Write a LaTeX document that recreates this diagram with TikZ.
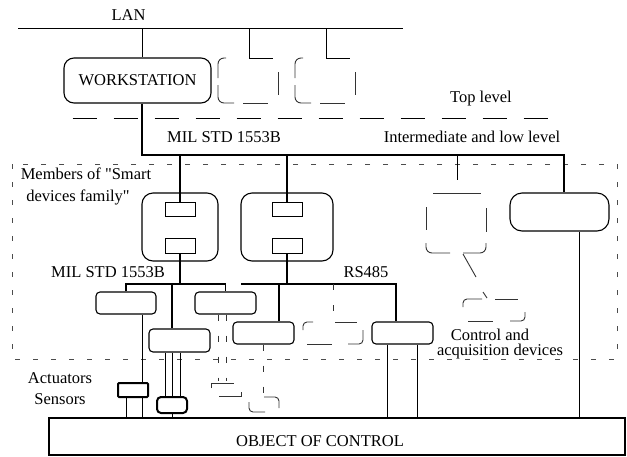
\documentclass[tikz,border=0pt]{standalone}
\usepackage{fontspec}
\setmainfont{Liberation Serif}
\newfontfamily\plainq{Liberation Serif}
\begin{document}
\begin{tikzpicture}[x=1pt,y=-1pt,
  every node/.style={font=\fontsize{16.5}{20}\selectfont, inner sep=0pt},
  thinln/.style={line width=0.9pt},
  bus/.style={line width=1.8pt},
  rb/.style={draw, line width=1.1pt, rounded corners=#1},
  rb/.default=4pt,
  sq/.style={draw, line width=0.9pt},
  thk/.style={draw, line width=2pt, rounded corners=#1},
  thk/.default=1pt,
  dsh/.style={line width=0.9pt, black!80},
  vdash/.style={line width=0.9pt, black!80, dash pattern=on 6pt off 15pt},
  region/.style={line width=0.7pt, black!70, dash pattern=on 5pt off 13pt}
]
\useasboundingbox (0,0) rectangle (627,456);

% ---------- top level ----------
\node (lan) at (128.5,15) {LAN};
\coordinate (lanL) at (18,28);
\coordinate (lanR) at (403,28);
\draw[thinln] (lanL) -- (lanR);

\node[rb=10pt, minimum width=147pt, minimum height=45pt] (ws) at (137.5,80.5) {WORKSTATION};
\coordinate (w1) at (142,28);
\draw[thinln] (w1) -- (w1 |- ws.north);

% dashed workstations
\foreach \sx/\nm in {218/w2, 295/w3}{
  \begin{scope}[shift={(\sx,58)}]
    \draw[dsh, rounded corners=6pt] (0,20) -- (0,0) -- (8,0);
    \draw[dsh, rounded corners=6pt] (0,27) -- (0,45) -- (16,45);
    \draw[dsh] (25,45) -- (50,45);
    \draw[thinln] (31,-30) -- (31,0) -- (55,0);
    \draw[dsh] (60,14) -- (60,37);
  \end{scope}
}

\draw[thinln, dash pattern=on 24.5pt off 16.5pt] (72.6,118) -- (548,118);
\node (top) at (481,99) {Top level};
\node (inter) at (472,137) {Intermediate and low level};
\node (mil1) at (224,137) {MIL STD 1553B};

% ---------- region ----------
\draw[region] (12,164) rectangle (617,359);
\node (mem1) at (86,174) {\plainq Members of "Smart};
\node (mem2) at (78,197) {\plainq devices family"};

% smart devices
\node[rb=11pt, minimum width=76pt, minimum height=68pt] (dev1) at (180,227) {};
\node[sq, minimum width=30pt, minimum height=14pt] (d1a) at (180,209) {};
\node[sq, minimum width=30pt, minimum height=15pt] (d1b) at (180,245.5) {};
\node[rb=11pt, minimum width=92pt, minimum height=68pt] (dev2) at (287,227) {};
\node[sq, minimum width=30pt, minimum height=14pt] (d2a) at (287,209) {};
\node[sq, minimum width=30pt, minimum height=15pt] (d2b) at (287,245.5) {};
\node[rb=12pt, minimum width=99pt, minimum height=38pt] (R) at (559.5,212) {};

% main bus
\coordinate (b0) at (142,155);
\coordinate (b9) at (564,155);
\coordinate (b7) at (457,155);
\draw[bus] (ws.south -| b0) -- (b0) -- (b9) -- (b9 |- R.north);
\draw[bus] (d1a.north) -- (d1a.north |- b0);
\draw[bus] (d2a.north) -- (d2a.north |- b0);
\draw[thinln] (b7) -- ++(0,25);

% dashed smart device (right)
\begin{scope}[shift={(426,193)}]
  \draw[dsh] (7,0) -- (55,0);
  \draw[dsh] (0,14) -- (0,37);
  \draw[dsh] (60,15) -- (60,39);
  \draw[dsh, rounded corners=6pt] (0,50) -- (0,60) -- (24,60);
  \draw[dsh, rounded corners=6pt] (37,60) -- (60,60) -- (60,50);
  \draw[dsh] (37,61) -- (50,84);
  \draw[dsh] (57,99) -- (61,105);
\end{scope}
\begin{scope}[shift={(463,299)}]
  \draw[dsh, rounded corners=4pt] (0,8) -- (0,0) -- (19,0);
  \draw[dsh] (32,0) -- (55,0);
  \draw[dsh, rounded corners=4pt] (62,13) -- (62,22) -- (47,22);
  \draw[dsh] (5,22) -- (30,22);
\end{scope}

% lower devices
\node (mil2) at (108,272) {MIL STD 1553B};
\node (rs) at (366,272) {RS485};
\node[rb, minimum width=60pt, minimum height=22pt] (A) at (126,303) {};
\node[rb, minimum width=61pt, minimum height=22pt] (B) at (225.5,303) {};
\node[rb, minimum width=61pt, minimum height=23pt] (C) at (179.5,340.5) {};
\node[rb, minimum width=61pt, minimum height=22pt] (D) at (263.5,333) {};
\node[rb, minimum width=61pt, minimum height=22pt] (F) at (402.5,333) {};

\coordinate (l1) at (172,284);
\draw[bus] (A.north) -- (A.north |- l1) -- (B.north |- l1) -- (B.north);
\draw[bus] (d1b.south) -- (d1b.south |- l1);
\draw[bus] (l1) -- (l1 |- C.north);

\coordinate (r0) at (241,284);
\coordinate (r1) at (279,284);
\coordinate (r2) at (333,284);
\coordinate (r9) at (396,284);
\draw[bus] (r0) -- (r9) -- (r9 |- F.north);
\draw[bus] (d2b.south) -- (d2b.south |- r0);
\draw[bus] (r1) -- (r1 |- D.north);
\draw[vdash] (r2) -- ++(0,38);

% dashed device E
\begin{scope}[shift={(303,322)}]
  \draw[dsh, rounded corners=4pt] (0,8) -- (0,0) -- (10,0);
  \draw[dsh] (32,0) -- (54,0);
  \draw[dsh, rounded corners=4pt] (60,8) -- (60,22) -- (45,22);
  \draw[dsh] (4,22) -- (29,22);
\end{scope}

\node (ctl1) at (490,335) {Control and};
\node (ctl2) at (500,352) {acquisition devices};

% ---------- actuators / sensors ----------
\node (act1) at (60,378) {Actuators};
\node (sen1) at (60,399) {Sensors};
\node[thk, minimum width=30pt, minimum height=14pt] (act) at (133,390) {};
\node[thk=4pt, minimum width=30pt, minimum height=16pt] (sen) at (172,405) {};

\node[draw, line width=1.6pt, minimum width=576pt, minimum height=37pt] (obj) at (337,436.5) {};
\node (objt) at (320,441) {OBJECT OF CONTROL};

\draw[thinln] ([xshift=16pt]A.south) -- ([xshift=16pt]A.south |- act.north);
\draw[thinln] ([xshift=9pt]act.south) -- ([xshift=9pt]act.south |- obj.north);
\draw[thinln] ([xshift=-7pt]act.south) -- ([xshift=-7pt]act.south |- obj.north);

\draw[thinln] ([xshift=-14.5pt]C.south) -- ([xshift=-14.5pt]C.south |- sen.north);
\draw[thinln] ([xshift=0.5pt]C.south) -- ([xshift=0.5pt]C.south |- sen.north);
\draw[line width=0.7pt] (l1 |- C.south) -- (l1 |- sen.north);
\draw[thinln] (sen.south) -- (sen.south |- obj.north);

% dashed under B
\draw[vdash] ([xshift=-7.5pt]B.south) -- ++(0,66);
\draw[vdash] ([xshift=0.5pt]B.south) -- ++(0,66);
\draw[dsh] (211,388) -- (211,383) -- (234,383);
\draw[dsh] (219,396) -- (241,396) -- (241,392);

% dashed under D
\draw[vdash] (D.south) -- ++(0,53);
\draw[dsh, rounded corners=4pt] (264,397) -- (279,397) -- (279,408);
\draw[dsh, rounded corners=4pt] (249,402) -- (249,412) -- (265,412);

% F and R to object
\draw[thinln] ([xshift=-15.5pt]F.south) -- ([xshift=-15.5pt]F.south |- obj.north);
\draw[thinln] ([xshift=14.5pt]F.south) -- ([xshift=14.5pt]F.south |- obj.north);
\coordinate (xR) at (579,0);
\draw[thinln] (R.south -| xR) -- (obj.north -| xR);
\end{tikzpicture}
\end{document}
